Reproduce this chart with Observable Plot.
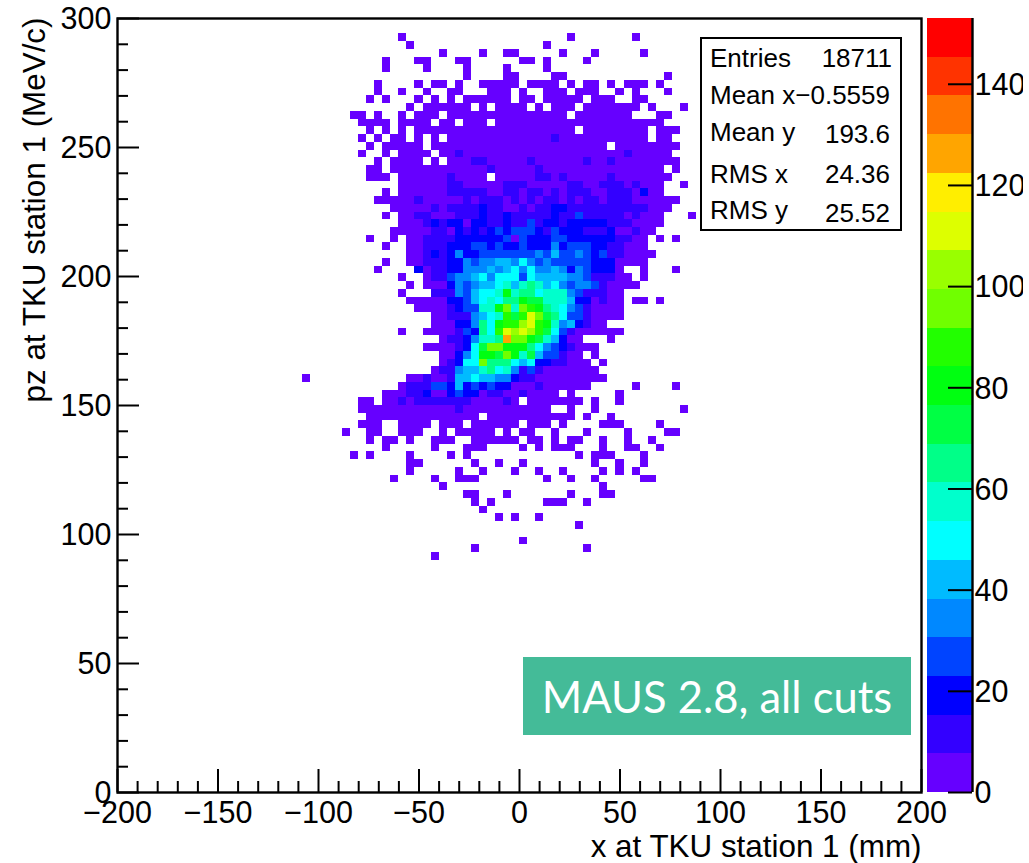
<!DOCTYPE html>
<html><head><meta charset="utf-8">
<script src="https://cdn.jsdelivr.net/npm/d3@7"></script>
<script src="https://cdn.jsdelivr.net/npm/@observablehq/plot@0.6"></script>
<style>
html,body{margin:0;padding:0;background:#fff}
#wrap{position:relative;width:1029px;height:863px;overflow:hidden;font-family:"Liberation Sans",sans-serif;color:#000}
#wrap svg{position:absolute;left:0;top:0;background:transparent}
#bar svg{left:926px}
#stats{position:absolute;left:700px;top:37px;width:198px;height:190px;border:2px solid #000;background:#fff;font-size:26px}
#stats span{position:absolute;white-space:nowrap;line-height:1}
#maus{position:absolute;left:523px;top:657px;width:388px;height:78px;background:#44bb98;color:#fff;font-family:Lato,sans-serif;font-weight:400;font-size:43.5px;line-height:78px;text-align:center}
</style></head><body>
<div id="wrap"><div id="main"></div><div id="bar"></div>
<div id="stats"></div><div id="maus">MAUS 2.8, all cuts</div></div>
<script>
// 100 x 100 bin histogram. Each entry lists the filled bins of one row, top row first.
// "a-b:L" = columns a..b at colour level L; "a:LMN" = consecutive columns from a; later tokens override.
const cellRows = [
"","",
"35:1 56:1 64:1",
"36:1 53:1",
"40:1 45:1 48:11 55:1 59:1 65:1",
"33:1 37:11 42:11 50:11 53:1 58:1",
"33:1 38:1 43:1 48:1 53:1",
"43:1 48:11 54:11 68:1",
"32:1 37:1 39:11 42:1 45-49:1 51-54:1 56:1 58:11 61:1 63-65:1 67:1",
"32:1 35:1 38:1 41:11 46-48:1 50:1 53-55:1 57-59:1 62:1 64:1 68:1",
"31:1 33:1 37:1 39:1 41:1 43-48:1 50:11 53-57:1 59-61:1 64:11",
"36:1 38-43:1 45:1 47-50:1 52:1 54-56:1 58-64:1 66:1 70:1",
"29:11 32:1 35:1 37-39:1 41-55:1 57-63:1 67:11",
"30-33:1 35-38:1 40:11 43-45:1 47-67:1",
"31:1 33:1 35:1 37-56:1 58-65:1 67-69:1",
"30:1 32:1 34:11 37:1 39:1 41-65:1 54:2 67:11",
"31:1 33-37:1 39-60:1 62-69:1",
"30:1 33:1 35-38:1 40-68:1 42:2 63:2",
"32:1 34-37:1 39:1 41-69:1 44:22 51:2 58:2 61:2",
"31:11 34-67:1 46:2 52:2 69:1",
"31-33:1 35-45:1 47-68:1 41:2 52:22 55:2 61:2",
"35-67:1 41:22 48-50:2 56:22 60-62:2 64:2 70:1",
"33:1 35-67:1 41-45:2 48:22 51:22 54:2 56-58:2 61-63:2 65:3",
"32-69:1 37:2 43:2 45-47:2 49:2 51:2 53:22 56:2 58:22 61-63:2",
"34-68:1 39:2 41-44:2 45:3 46:22 50:2 52:22 54:33 56-65:2",
"33:1 35:11 37:22 39-41:1 42-44:2 45:3 46:22 48:3 49-53:2 54:3 55:22 57:4 58-62:2 63:1 64:2 65-67:1 71:1",
"35-37:1 38:2 39:3 40:2 41:33 43:1 44:33 46:22 48:3 49:22 51:4 52:2 53:33 55:2 56-60:3 61-63:2 64-67:1",
"34-38:1 39:22 41:1 42:3 43:2 44:3 45:2 46:3 47:4 48:3 49-51:4 52:3 53:2 54:4 55-57:3 58-60:2 61:3 62:11 64:2 65:11",
"31:1 34:1 36:11 38-41:2 42-47:3 48:4 49:1 50:4 51-53:3 54:44 56-61:3 62:22 64:11 67:1 69:1",
"33:1 36:11 38-40:2 41-43:3 44:44 46:3 47:4 48:33 50:4 51-53:3 54:5 55:3 56-58:4 59:33 61:22 63-65:1",
"36:11 38:2 39:3 40:2 41:3 42:5 43:33 45-51:4 52:5 53:4 54:6 55:44 57:5 58:4 59:3 60:4 61:22 63-66:1",
"33:1 36:11 38-40:2 41:33 43:5 44:4 45:55 47:66 49:5 50:7 51:5 52:4 53:5 54:4 55-58:4 59-61:3 62-65:1",
"32:1 37:3 38:1 39:22 41:33 43-45:5 46:6 47:5 48:6 49:7 50:5 51:7 52:55 54:6 55:5 56:3 57:5 58:4 59-61:3 62:1 65:1 69:1",
"35:1 38:1 39:22 41:4 42:55 44:6 45:7 46:5 47-49:7 50:4 51:7 52-55:6 56:55 58:4 59-61:2 62:11 65:1",
"36:1 38-40:1 41:3 42:5 43:4 44:5 45:66 47:7 48:8 49:6 50:8 51:9 52:8 53:6 54:7 55:5 56:4 57:55 59:4 60:2 61-64:1",
"35:1 39-41:2 42:5 43:4 44:6 45:77 47:8 48:b 49:8 50:99 52:7 53-55:8 56:5 57:4 58-60:2 61:11",
"36-40:1 41:33 43:4 44:6 45:7 46:8 47:7 48:99 50:b 51:aa 53-55:8 56:6 57:33 59:1 60:2 61:11 64:11 67:1",
"37-40:1 41:2 42:3 43:44 45:88 47:b 48:d 49:8 50:d 51:c 52:b 53:9 54:8 55:7 56:5 57:4 58:2 59-62:1",
"39:11 41-43:2 44:5 45:6 46:7 47:8 48:c 49:a 50:c 51:f 52:d 53:a 54:9 55:7 56:44 58:2 59-62:1",
"39-41:1 42:33 44:5 45:9 46:7 47:b 48:cc 50:e 51:f 52:cb 54:8 55:5 56:6 57:3 58:2 59:11",
"35:1 38-41:1 42:2 43:4 44:3 45:9 46:7 47:c 48:f 49:e 50:f 51:e 52:c 53:a 54:7 55:4 56:2 57-62:1",
"40:1 41:22 43:3 44:5 45:88 47:9 48:h 49:dd 51:b 52:a 53:8 54:6 55:3 56:11 61:1",
"38-41:1 42:2 43:3 44:7 45:a 46:dd 48:b 49:bb 51:9 52:7 53:5 54:4 55:3 56:2 57-59:1",
"40:11 42:3 43:5 44:7 45:bb 47:a 48:d 49:b 50:8 51:a 52:6 53:44 55:2 56:11 59:1",
"40:1 41:2 42:3 43:77 45:d 46:9 47:99 49:7 50:6 51:7 52:33 54:22 56-58:1 60:1",
"39:1 40:22 42:5 43:66 45:8 46:9 47:7 48:8 49:5 50:2 51:4 52:2 53-59:1",
"23:1 36:11 38:2 39:11 41:2 42:66 44:7 45:66 47:55 49:3 50:22 52-60:1",
"35:1 36-38:2 39:44 41:3 42:6 43:3 44:4 45:3 46:4 47:33 49-51:1 52:2 53-58:1 64:1 69:1",
"33-35:1 36:22 38:3 39:11 41:3 42:4 43:33 45:1 46:22 48:11 50:2 51-54:1 56:1 62:1",
"30:11 33:11 35:2 36:1 37-43:2 44-47:1 48:2 49:1 51-57:1 59:1 62:1",
"30-53:1 42:2 56:1 59:1 70:1",
"31-44:1 46-56:1 58:1 61:1",
"30-32:1 35-38:1 40-42:1 44-49:1 51-53:1 55:1 60-62:1 67:1",
"28:1 31:11 35-37:1 40:1 42-46:1 48:1 50:11 54:1 58:1 63:1 68:11",
"31:1 33:11 36:1 39-41:1 44-49:1 51:11 54:1 56:11 60:1 63:1 66:1",
"33:1 39:1 43-45:1 50:1 52:1 54-56:1 60:1 63:11 67:1",
"29:1 31:1 36:1 41:1 43:1 57:1 59-61:1 65:1",
"36:11 44:1 47:1 50:1 59:1 62:1 65:1",
"36:1 42:1 45:1 49:1 52:1 55:1 60:1 62:1 64:1",
"34:1 39:1 42-44:1 53:1 56:1 59:1 65:11",
"40:1 60:1",
"43:11 48:1 56:1 60:11",
"44:1 46:1 53-55:1 58:1",
"45:1",
"47:1 49:1 52:1",
"57:1",
"",
"50:1",
"44:1 58:1",
"39:1"
];
const levelColors = ["#6600ff","#3300ff","#0000ff","#0044ff","#0088ff","#00bbff","#00ffff","#00ffcc","#00ff88","#00ff44","#00ff11","#22ff00","#70ff00","#99ff00","#ddff00","#ffee00","#ffa500","#ff7300","#ff3300","#ff0000"];
const countMax = 153;
const xMajor = [-200,-150,-100,-50,0,50,100,150,200];
const xMinor = [-190,-180,-170,-160,-140,-130,-120,-110,-90,-80,-70,-60,-40,-30,-20,-10,10,20,30,40,60,70,80,90,110,120,130,140,160,170,180,190];
const yMajor = [0,50,100,150,200,250,300];
const yMinor = [10,20,30,40,60,70,80,90,110,120,130,140,160,170,180,190,210,220,230,240,260,270,280,290];
const zMajor = [0,20,40,60,80,100,120,140];
const statLabels = ["Entries","Mean x","Mean y","RMS x","RMS y"];
const statValues = ["18711","\u22120.5559","193.6","24.36","25.52"];

const step = countMax / levelColors.length;
const thresholds = levelColors.slice(1).map((_, i) => (i + 1) * step);
const cells = [];
cellRows.forEach((row, j) => {
  const grid = new Map();
  row.split(" ").filter(Boolean).forEach(tok => {
    const [pos, lv] = tok.split(":");
    if (pos.includes("-")) {
      const [a, b] = pos.split("-").map(Number);
      for (let c = a; c <= b; c++) grid.set(c, parseInt(lv, 36));
    } else {
      [...lv].forEach((ch, k) => grid.set(+pos + k, parseInt(ch, 36)));
    }
  });
  grid.forEach((L, c) => cells.push({x1: -200 + 4 * c, x2: -196 + 4 * c, y1: 297 - 3 * j, y2: 300 - 3 * j, count: (L - 0.5) * step}));
});
const fmt = d => d < 0 ? "\u2212" + (-d) : String(d);
const tickFont = 30.5, titleFont = 31.4;
const font = {fontFamily: "'Liberation Sans',sans-serif", fontSize: tickFont + "px", color: "#000"};
const frameW = 804, frameH = 774;

const main = Plot.plot({
  width: 1029, height: 863, marginLeft: 117, marginRight: 108, marginTop: 18, marginBottom: 71,
  style: font,
  x: {domain: [-200, 200]}, y: {domain: [0, 300]},
  color: {type: "threshold", domain: thresholds, range: levelColors},
  marks: [
    Plot.rect(cells, {x1: "x1", x2: "x2", y1: "y1", y2: "y2", fill: "count", shapeRendering: "crispEdges"}),
    Plot.tickX(xMajor, {x: d => d, insetTop: frameH - 23, strokeWidth: 2, stroke: "#000"}),
    Plot.tickX(xMinor, {x: d => d, insetTop: frameH - 11, strokeWidth: 2, stroke: "#000"}),
    Plot.tickY(yMajor, {y: d => d, insetRight: frameW - 22, strokeWidth: 2, stroke: "#000"}),
    Plot.tickY(yMinor, {y: d => d, insetRight: frameW - 11, strokeWidth: 2, stroke: "#000"}),
    Plot.frame({stroke: "#000", strokeWidth: 2.4}),
    Plot.axisX({ticks: xMajor, tickSize: 0, tickPadding: 9, tickFormat: fmt, label: null, fontSize: tickFont, fill: "#000"}),
    Plot.axisY({ticks: yMajor, tickSize: 0, tickPadding: 6, dy: 1, tickFormat: fmt, label: null, fontSize: tickFont, fill: "#000"}),
    Plot.text(["x at TKU station 1 (mm)"], {frameAnchor: "bottom-right", textAnchor: "end", lineAnchor: "bottom", dy: 64, fontSize: titleFont, fill: "#000"}),
    Plot.text(["pz at TKU station 1 (MeV/c)"], {frameAnchor: "top-left", rotate: -90, textAnchor: "end", lineAnchor: "middle", dx: -83, dy: -1, fontSize: titleFont, fill: "#000"})
  ]
});
document.getElementById("main").append(main);

const bands = levelColors.map((color, i) => ({y1: i * step, y2: (i + 1) * step, color}));
const bar = Plot.plot({
  width: 97, height: 863, marginLeft: 1, marginRight: 51, marginTop: 18, marginBottom: 71,
  style: font,
  x: {domain: [0, 1], axis: null}, y: {domain: [0, countMax], axis: null},
  marks: [
    Plot.rect(bands, {x1: 0, x2: 1, y1: "y1", y2: "y2", fill: "color", shapeRendering: "crispEdges"}),
    Plot.tickY(zMajor, {y: d => d, insetLeft: 21, strokeWidth: 2, stroke: "#000"}),
    Plot.ruleX([1], {stroke: "#000", strokeWidth: 2.4}),
    Plot.text(zMajor, {y: d => d, text: d => String(d), frameAnchor: "right", textAnchor: "start", dx: 2, dy: 1, fontSize: tickFont, fill: "#000"})
  ]
});
document.getElementById("bar").append(bar);

const box = document.getElementById("stats");
const labelBase = [67,104,141,183,219], valueBase = [67,104,143,183,222], valueRight = [8,10,10,10,10];
statLabels.forEach((label, i) => {
  const a = document.createElement("span");
  a.textContent = label; a.style.left = "8px"; a.style.top = (labelBase[i] - 39 - 22) + "px";
  const b = document.createElement("span");
  b.textContent = statValues[i]; b.style.right = valueRight[i] + "px"; b.style.top = (valueBase[i] - 39 - 22) + "px";
  box.append(a, b);
});
</script></body></html>
